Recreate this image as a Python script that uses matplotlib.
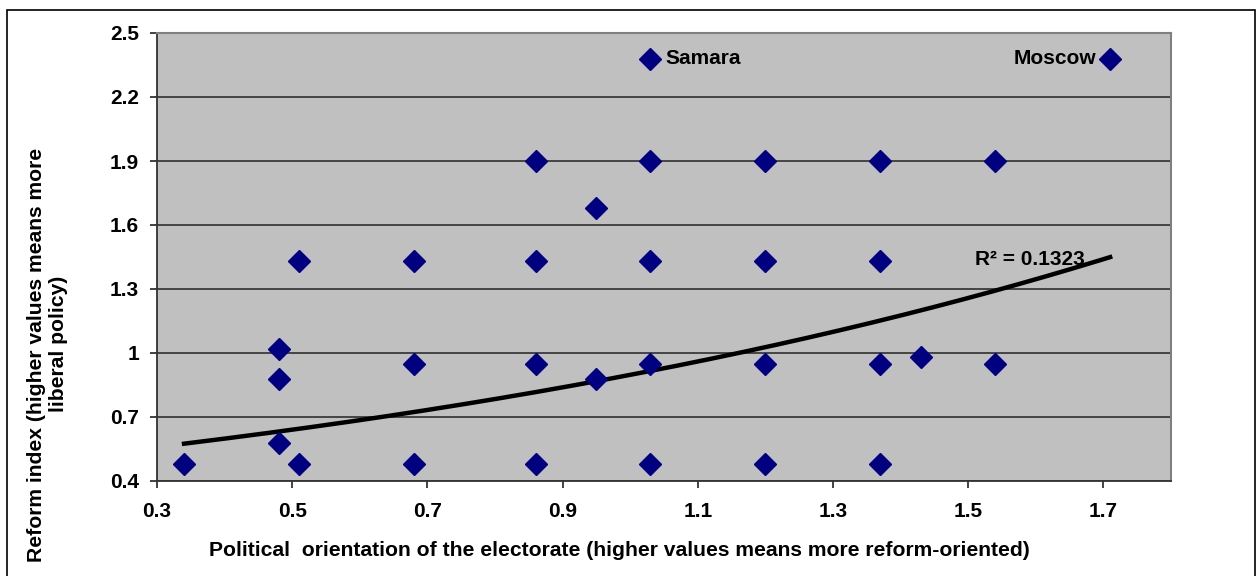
import numpy as np
import matplotlib.pyplot as plt
from matplotlib.patches import Rectangle

plt.rcParams['font.family'] = ['Liberation Sans', 'DejaVu Sans']
plt.rcParams['font.weight'] = 'bold'
plt.rcParams['axes.labelweight'] = 'bold'

# political orientation (x) vs reform index (y)
orientation = [0.34, 0.48, 0.48, 0.48, 0.51, 0.51, 0.68, 0.68, 0.68,
               0.86, 0.86, 0.86, 0.86, 0.95, 0.95,
               1.03, 1.03, 1.03, 1.03, 1.03,
               1.20, 1.20, 1.20, 1.20,
               1.37, 1.37, 1.37, 1.37, 1.43, 1.54, 1.54, 1.71]
reform = [0.48, 1.02, 0.88, 0.58, 1.43, 0.48, 1.43, 0.95, 0.48,
          1.90, 1.43, 0.95, 0.48, 1.68, 0.88,
          2.38, 1.90, 1.43, 0.95, 0.48,
          1.90, 1.43, 0.95, 0.48,
          1.90, 1.43, 0.95, 0.48, 0.98, 1.90, 0.95, 2.38]

x_ticks = [0.3, 0.5, 0.7, 0.9, 1.1, 1.3, 1.5, 1.7]
y_ticks = [0.4, 0.7, 1.0, 1.3, 1.6, 1.9, 2.2, 2.5]
y_ticklabels = ['0.4', '0.7', '1', '1.3', '1.6', '1.9', '2.2', '2.5']

# exponential trendline y = a*exp(b*x)
trend_a = 0.457
trend_b = 0.675

x = np.array(orientation)
y = np.array(reform)
xs = np.linspace(x.min(), x.max(), 200)
ys = trend_a * np.exp(trend_b * xs)

fig = plt.figure(figsize=(12.57, 5.76), dpi=100)
ax = fig.add_axes([157 / 1257, 1 - 481 / 576, (1171 - 157) / 1257, (481 - 33) / 576])
ax.set_facecolor('#c0c0c0')

# outer chart frame (runs off the bottom)
fig.patches.append(Rectangle((7 / 1257, -0.05), (1255 - 7) / 1257, (566 + 0.05 * 576) / 576,
                             transform=fig.transFigure, fill=False,
                             edgecolor='black', linewidth=1.2))

ax.set_xlim(0.3, 1.8)
ax.set_ylim(0.4, 2.5)
ax.set_xticks(x_ticks)
ax.set_xticklabels([str(t) for t in x_ticks])
ax.set_yticks(y_ticks)
ax.set_yticklabels(y_ticklabels)
ax.tick_params(direction='out', length=5, width=1.2, labelsize=15, color='#222222')
ax.tick_params(axis='x', pad=10)
ax.tick_params(axis='y', pad=8)

ax.grid(axis='y', color='#3a3a3a', linewidth=1.3)
ax.set_axisbelow(True)
for side in ['top', 'right']:
    ax.spines[side].set_color('#808080')
    ax.spines[side].set_linewidth(1.5)
for side in ['left', 'bottom']:
    ax.spines[side].set_color('#333333')
    ax.spines[side].set_linewidth(1.3)

ax.plot(xs, ys, color='black', linewidth=3.2, zorder=2)
ax.plot(x, y, linestyle='none', marker='D', markersize=11,
        color='#000080', zorder=3)

ax.text(1.052, 2.38, 'Samara', fontsize=15, va='center', ha='left')
ax.text(1.689, 2.38, 'Moscow', fontsize=15, va='center', ha='right')
ax.text(1.51, 1.44, 'R² = 0.1323', fontsize=15, va='center', ha='left')

fig.text(619 / 1257, 1 - 551 / 576,
         'Political  orientation of the electorate (higher values means more reform-oriented)',
         fontsize=15.2, ha='center', va='center')
fig.text(37 / 1257, 1 - 355 / 576, 'Reform index (higher values means more',
         fontsize=15.2, rotation=90, ha='center', va='center')
fig.text(59 / 1257, 1 - 344 / 576, 'liberal policy)',
         fontsize=15.2, rotation=90, ha='center', va='center')

fig.savefig('out.png', dpi=100)
